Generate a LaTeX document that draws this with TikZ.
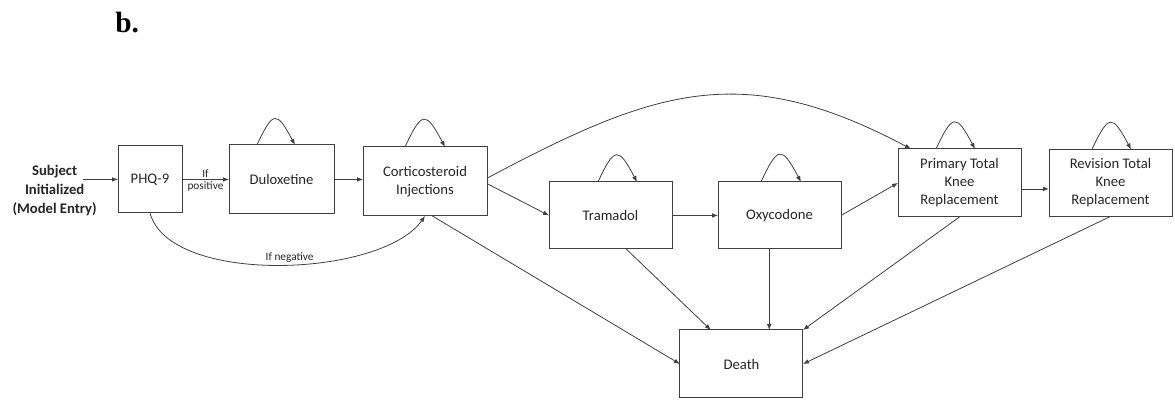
\documentclass[tikz,border=0pt]{standalone}
\usepackage{fontspec}
\setmainfont{Carlito}
\newfontfamily\panelfont{Liberation Serif}
\usetikzlibrary{positioning, arrows.meta, calc}
\tikzset{
    box/.style={rectangle, draw=black!75, line width=0.75pt, outer sep=0pt, align=center, inner sep=2pt,
      minimum width=92.25pt, minimum height=51pt, text=black!85,
      font=\fontsize{11}{13.5}\selectfont},
    cond/.style={font=\fontsize{8.5}{10}\selectfont, text=black!85, inner sep=1.5pt},
    arr/.style={->, draw=black!75, line width=0.6pt},
    selfloop/.style={arr, out=65, in=118, looseness=2.6},
}

\begin{document}
\begin{tikzpicture}[>={Latex[length=4.5pt,width=3.5pt]}]
    \useasboundingbox (0,0) rectangle (881.25pt,-301.5pt);

    \node[anchor=base west, inner sep=0, font=\panelfont\bfseries\fontsize{22}{26}\selectfont] (panel) at (86.25pt,-24.2pt) {b.};

    \node[box, minimum width=48pt, minimum height=50.25pt] (phq) at (112.5pt,-134.6pt) {PHQ-9};
    \node[align=center, inner sep=0, text=black!85, font=\bfseries\fontsize{11}{14.25}\selectfont,
      left=15.75pt of phq, yshift=-8.6pt] (entry) {Subject\\Initialized\\(Model Entry)};
    \coordinate[left=26.25pt of phq.west] (entrypt);

    \node[box, minimum width=78.75pt, minimum height=51.75pt, right=35.25pt of phq] (dulox) {Duloxetine};
    \node[box, minimum width=93pt, minimum height=51.75pt, right=21.75pt of dulox, yshift=-1.5pt] (cortico) {Corticosteroid\\Injections};
    \node[box, minimum height=50.25pt, right=46.5pt of cortico, yshift=-25.5pt] (tram) {Tramadol};
    \node[box, minimum height=50.25pt, right=34.5pt of tram] (oxy) {Oxycodone};
    \node[box, right=42.75pt of oxy, yshift=24.4pt] (primary) {Primary Total\\Knee\\Replacement};
    \node[box, minimum height=50.25pt, right=21pt of primary] (revision) {Revision Total\\Knee\\Replacement};
    \node[box] (death) at (556.1pt,-273pt) {Death};

    % transitions
    \draw[arr] (entrypt) -- (phq.west);
    \draw[arr] (phq) -- node[cond, above]{If} node[cond, below]{positive} (dulox);
    \draw[arr] (phq.south) to[out=-75, in=-125, looseness=0.7] node[cond, above, pos=0.53]{If negative} (cortico.south);
    \draw[arr] (dulox.east) -- (dulox.east -| cortico.west);
    \draw[arr] (cortico.-2) -- (tram.west);
    \draw[arr] (cortico.3) to[out=28, in=152, looseness=1.15] (primary.145);
    \draw[arr] (tram) -- (oxy);
    \draw[arr] (oxy.east) -- (primary.west);
    \draw[arr] ([yshift=-4.5pt]primary.east) -- ([yshift=-4.5pt]revision.west);

    % to death
    \draw[arr] (cortico.-78) -- (death.west);
    \draw[arr] (tram.-65) -- (death.132);
    \draw[arr] (oxy.-107) -- (oxy.-107 |- death.north);
    \draw[arr] (primary.south) -- (death.north east);
    \draw[arr] (revision.south) -- (death.east);

    % staying in a state
    \foreach \n/\a/\b in {dulox/-18.4/10.1, cortico/-15/15, tram/-9.4/19.9,
                          oxy/-13.9/16.1, primary/-17.6/11.6, revision/-13.9/15.4}
      \path ([xshift=\a pt]\n.north) edge[selfloop] ([xshift=\b pt]\n.north);
\end{tikzpicture}
\end{document}
